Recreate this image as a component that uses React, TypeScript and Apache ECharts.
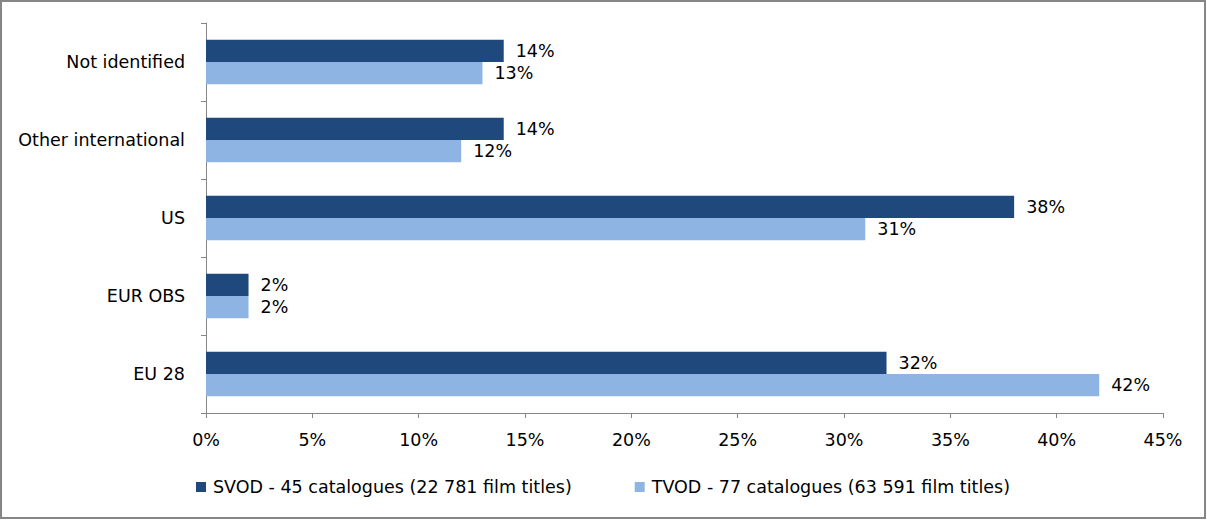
import React, { useEffect, useRef } from "react";
import * as echarts from "echarts";

const categories = ["EU 28", "EUR OBS", "US", "Other international", "Not identified"];
const svodValues = [32, 2, 38, 14, 14];
const tvodValues = [42, 2, 31, 12, 13];
const svodName = "SVOD - 45 catalogues (22 781 film titles)";
const tvodName = "TVOD - 77 catalogues (63 591 film titles)";

const FONT = "'DejaVu Sans', sans-serif";
const FS = 17.5;

export default function App() {
  const ref = useRef<HTMLDivElement>(null);
  useEffect(() => {
    document.body.style.margin = "0";
    const chart = echarts.init(ref.current!, null, { renderer: "svg" });
    const label = {
      show: true,
      position: "right",
      distance: 12,
      formatter: "{c}%",
      color: "#000",
      fontFamily: FONT,
      fontSize: FS,
    };
    chart.setOption({
      animation: false,
      textStyle: { fontFamily: FONT },
      graphic: [
        {
          type: "rect",
          shape: { x: 1, y: 1, width: 1204, height: 517 },
          style: { fill: "none", stroke: "#868686", lineWidth: 2 },
          z: 100,
        },
      ],
      grid: { left: 206, right: 44, top: 23, bottom: 107 },
      legend: {
        data: [svodName, tvodName],
        left: 196,
        top: 478,
        padding: 0,
        icon: "rect",
        itemWidth: 10,
        itemHeight: 10,
        itemGap: 63,
        textStyle: { fontFamily: FONT, fontSize: FS, color: "#000", padding: [0, 0, 0, 2] },
      },
      xAxis: {
        type: "value",
        min: 0,
        max: 45,
        interval: 5,
        axisLine: { show: true, lineStyle: { color: "#868686", width: 1 } },
        axisTick: { show: true, length: 5, lineStyle: { color: "#868686" } },
        splitLine: { show: false },
        axisLabel: {
          formatter: "{value}%",
          color: "#000",
          fontFamily: FONT,
          fontSize: FS,
          margin: 18,
        },
      },
      yAxis: {
        type: "category",
        data: categories,
        axisLine: { show: true, lineStyle: { color: "#868686", width: 1 } },
        axisTick: { show: true, length: 5, lineStyle: { color: "#868686" } },
        axisLabel: { color: "#000", fontFamily: FONT, fontSize: FS, margin: 21 },
      },
      series: [
        {
          name: svodName,
          type: "bar",
          data: svodValues,
          itemStyle: { color: "#1F497D" },
          barGap: "0%",
          barCategoryGap: "43%",
          label,
        },
        {
          name: tvodName,
          type: "bar",
          data: tvodValues,
          itemStyle: { color: "#8EB4E3" },
          barGap: "0%",
          barCategoryGap: "43%",
          label,
        },
      ],
    });
    return () => chart.dispose();
  }, []);
  return (
    <div
      ref={ref}
      style={{ position: "absolute", left: 0, top: 0, width: 1207, height: 520, background: "#fff" }}
    />
  );
}
